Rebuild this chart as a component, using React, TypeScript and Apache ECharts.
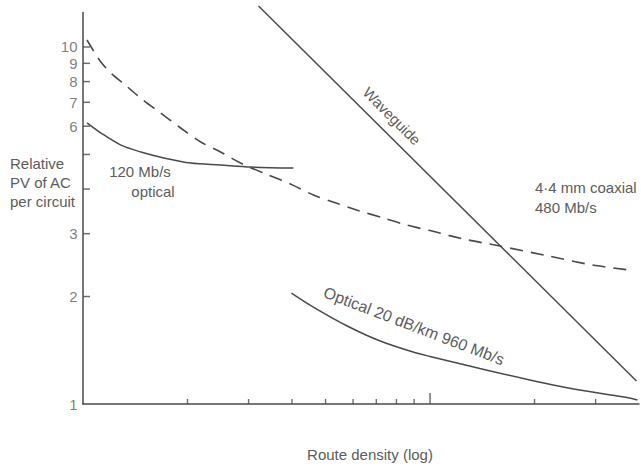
import React, { useEffect, useRef } from "react";
import * as echarts from "echarts";

// Axis tick positions (route density is log, relative PV is log)
const xMinorTicks = [2, 3, 4, 5, 6, 7, 8, 9, 20, 30];
const xMajorTicks = [10];
const yTickValues = [2, 3, 4, 5, 6, 7, 8, 9, 10];
const yTickLabels = [1, 2, 3, 6, 7, 8, 9, 10];

// Series: [route density, relative PV of AC per circuit]
const waveguide: [number, number][] = [
  [3.205, 13.02],
  [39.33, 1.16],
];

const coaxial480: [number, number][] = [
  [1.027, 10.46], [1.104, 9.32], [1.164, 8.73], [1.219, 8.35], [1.303, 7.93],
  [1.374, 7.58], [1.488, 7.11], [1.675, 6.53], [1.912, 5.93], [2.183, 5.42],
  [2.492, 5.08], [2.845, 4.73], [3.422, 4.38], [4.013, 4.11], [4.611, 3.85],
  [5.333, 3.66], [6.17, 3.49], [7.328, 3.32], [8.589, 3.17], [10.0, 3.06],
  [12.44, 2.9], [15.89, 2.77], [21.83, 2.6], [29.41, 2.45], [38.07, 2.37],
];

const optical120: [number, number][] = [
  [1.027, 6.13], [1.127, 5.74], [1.286, 5.31], [1.468, 5.08], [1.709, 4.89],
  [2.044, 4.73], [2.492, 4.67], [3.04, 4.61], [4.04, 4.58],
];

const optical960: [number, number][] = [
  [3.986, 2.046], [4.611, 1.869], [5.773, 1.654], [7.183, 1.501], [8.935, 1.398],
  [10.0, 1.359], [13.92, 1.257], [19.39, 1.168], [26.98, 1.094], [37.56, 1.039],
  [39.6, 1.026],
];

export default function App() {
  const ref = useRef<HTMLDivElement>(null);

  useEffect(() => {
    const chart = echarts.init(ref.current!, null, { renderer: "svg" });
    const font = "'Liberation Sans', Arial, Helvetica, sans-serif";
    const ink = "#4a4a4a";
    const textColor = "#5c5c5c";
    const fs = 15;

    const lineBase = {
      type: "line",
      showSymbol: false,
      symbol: "none",
      silent: true,
      emphasis: { disabled: true },
    };

    const textStyle = (text: string, align: string = "center", size: number = fs) => ({
      text,
      fill: textColor,
      fontSize: size,
      fontFamily: font,
      align,
      verticalAlign: "middle",
    });

    chart.setOption({
      animation: false,
      backgroundColor: "#ffffff",
      grid: { left: 83, right: 2, top: 12.4, bottom: 63 },
      xAxis: {
        type: "log",
        logBase: 10,
        min: 1,
        max: 40,
        axisLine: { show: true, onZero: false, lineStyle: { color: ink, width: 1.5 } },
        axisTick: { show: false },
        axisLabel: { show: false },
        splitLine: { show: false },
        minorTick: { show: false },
      },
      yAxis: {
        type: "log",
        logBase: 10,
        min: 1,
        max: 12.5,
        axisLine: { show: true, onZero: false, lineStyle: { color: ink, width: 1.5 } },
        axisTick: { show: false },
        axisLabel: { show: false },
        splitLine: { show: false },
        minorTick: { show: false },
      },
      series: [
        {
          ...lineBase,
          name: "Waveguide",
          data: waveguide,
          clip: false,
          lineStyle: { color: ink, width: 1.5 },
        },
        {
          ...lineBase,
          name: "4·4 mm coaxial 480 Mb/s",
          data: coaxial480,
          smooth: 0.3,
          lineStyle: { color: ink, width: 1.6, type: [13, 8] },
        },
        {
          ...lineBase,
          name: "120 Mb/s optical",
          data: optical120,
          smooth: 0.3,
          lineStyle: { color: ink, width: 1.5 },
        },
        {
          ...lineBase,
          name: "Optical 20 dB/km 960 Mb/s",
          data: optical960,
          smooth: 0.3,
          lineStyle: { color: ink, width: 1.5 },
        },
        {
          type: "scatter",
          silent: true,
          clip: false,
          emphasis: { disabled: true },
          data: xMinorTicks.map((v) => [v, 1]),
          symbol: "rect",
          symbolSize: [1.4, 5],
          symbolOffset: [0, -2.5],
          itemStyle: { color: ink },
        },
        {
          type: "scatter",
          silent: true,
          clip: false,
          emphasis: { disabled: true },
          data: xMajorTicks.map((v) => [v, 1]),
          symbol: "rect",
          symbolSize: [1.5, 11],
          symbolOffset: [0, -5.5],
          itemStyle: { color: ink },
        },
        {
          type: "scatter",
          silent: true,
          clip: false,
          emphasis: { disabled: true },
          data: yTickValues.map((v) => [1, v]),
          symbol: "rect",
          symbolSize: [7, 1.5],
          symbolOffset: [3.5, 0],
          itemStyle: { color: ink },
          z: 5,
        },
        {
          type: "scatter",
          silent: true,
          clip: false,
          emphasis: { disabled: true },
          data: yTickLabels.map((v) => [1, v]),
          symbol: "circle",
          symbolSize: 1,
          itemStyle: { color: "transparent" },
          label: {
            show: true,
            position: "left",
            distance: 5,
            formatter: (p: any) => String(p.value[1]),
            color: textColor,
            fontSize: fs,
            fontFamily: font,
          },
        },
      ],
      graphic: [
        {
          type: "text",
          x: 10,
          y: 182,
          silent: true,
          style: { ...textStyle("Relative\nPV of AC\nper circuit", "left"), lineHeight: 19 },
        },
        { type: "text", x: 140, y: 171, silent: true, style: textStyle("120 Mb/s") },
        { type: "text", x: 153, y: 191, silent: true, style: textStyle("optical") },
        {
          type: "text",
          x: 392,
          y: 116,
          rotation: -Math.PI / 4,
          silent: true,
          style: textStyle("Waveguide"),
        },
        { type: "text", x: 535, y: 187, silent: true, style: textStyle("4·4 mm coaxial", "left") },
        { type: "text", x: 535, y: 207, silent: true, style: textStyle("480 Mb/s", "left") },
        {
          type: "text",
          x: 414,
          y: 326,
          rotation: (-21 * Math.PI) / 180,
          silent: true,
          style: textStyle("Optical 20 dB/km 960 Mb/s", "center", 16),
        },
        { type: "text", x: 370, y: 454, silent: true, style: textStyle("Route density (log)") },
      ],
    });

    return () => chart.dispose();
  }, []);

  return (
    <div
      ref={ref}
      style={{ position: "absolute", left: 0, top: 0, width: 641, height: 467, background: "#fff" }}
    />
  );
}
